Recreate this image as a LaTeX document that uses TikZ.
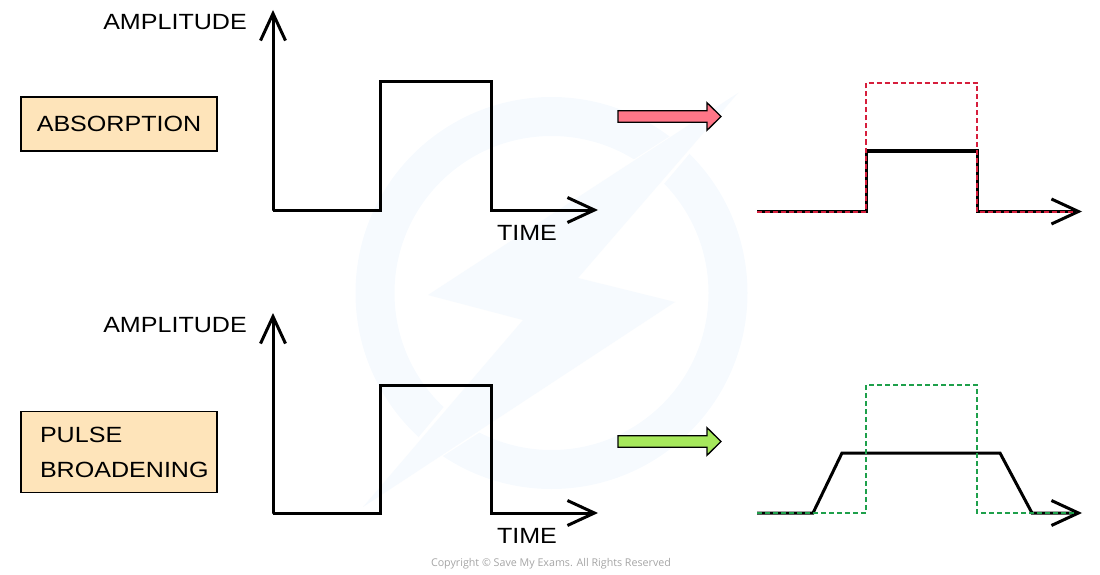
\documentclass[tikz,border=0pt]{standalone}
\usepackage{fontspec}
\setmainfont{Liberation Sans}[FakeStretch=1.14]
\newfontfamily\copyfont{Open Sans}
\usetikzlibrary{arrows.meta}
\definecolor{wm}{RGB}{246,250,254}
\definecolor{boxfill}{RGB}{254,228,186}
\definecolor{redfill}{RGB}{255,118,136}
\definecolor{greenfill}{RGB}{166,232,92}
\definecolor{dred}{RGB}{214,30,60}
\definecolor{dgreen}{RGB}{30,160,75}
\definecolor{cgray}{RGB}{165,165,165}
\tikzset{
  barb/.style={-{Straight Barb[length=27pt,width=25pt,line width=3pt]}},
  axisline/.style={line width=3pt, line cap=round, barb},
  pulseline/.style={line width=3pt, line join=miter},
  dashline/.style={line width=2pt, dash pattern=on 5pt off 3pt},
  lbl/.style={font=\fontsize{22}{26}\selectfont, inner sep=0pt},
  labelbox/.style={draw, line width=1.4pt, fill=boxfill, font=\fontsize{22}{35}\selectfont, minimum width=196pt},
  blockarrow/.style={draw, line width=1.3pt, line join=miter},
}
\begin{document}
\begin{tikzpicture}[x=1pt,y=-1pt]
\useasboundingbox (0,0) rectangle (1100,575);
% watermark
\draw[wm, line width=39pt] (551.5,293) circle[radius=176.5pt];
\fill[white] (745,88) -- (420,297) -- (515,322) -- (356,512) -- (685,300) -- (586,276) -- cycle;
\fill[wm] (738,93) -- (428,295) -- (523,320) -- (363,507) -- (675,302) -- (578,278) -- cycle;
% ---------- top row ----------
\coordinate (o1) at (273,210);
\coordinate (yt1) at (273,10);
\coordinate (r1) at (380,210);
\coordinate (rt1) at (380,82);
\coordinate (ft1) at (491,82);
\coordinate (f1) at (491,210);
\coordinate (xt1) at (598,210);
\draw[axisline] (o1) -- (yt1);
\draw[pulseline, barb] (o1) -- (r1) -- (rt1) -- (ft1) -- (f1) -- (xt1);
\node[lbl, anchor=east] (amp1) at (247,22) {AMPLITUDE};
\node[lbl] (time1) at (527,233) {TIME};
\node[labelbox, minimum height=54pt] (abs) at (119,124) {ABSORPTION};
% red block arrow
\draw[blockarrow, fill=redfill] (618,110.7) -- (707,110.7) -- (707,102.7) -- (721,116.5) -- (707,130.3) -- (707,122.3) -- (618,122.3) -- cycle;
% right top plot
\coordinate (a0) at (757,211.5);
\coordinate (a1) at (866,211.5);
\coordinate (a2) at (866,151);
\coordinate (a3) at (977,151);
\coordinate (a4) at (977,211.5);
\coordinate (a5) at (1082,211.5);
\coordinate (a2d) at (866,83);
\coordinate (a3d) at (977,83);
\coordinate (a5d) at (1076,211.5);
\draw[pulseline, barb] (a0) -- (a1) -- (a2) -- (a3) -- (a4) -- (a5);
\draw[dashline, dred] (a0) -- (a1) -- (a2d) -- (a3d) -- (a4) -- (a5d);
% ---------- bottom row ----------
\coordinate (o2) at (273,513);
\coordinate (yt2) at (273,313);
\coordinate (r2) at (380,513);
\coordinate (rt2) at (380,385);
\coordinate (ft2) at (491,385);
\coordinate (f2) at (491,513);
\coordinate (xt2) at (598,513);
\draw[axisline] (o2) -- (yt2);
\draw[pulseline, barb] (o2) -- (r2) -- (rt2) -- (ft2) -- (f2) -- (xt2);
\node[lbl, anchor=east] (amp2) at (247,325) {AMPLITUDE};
\node[lbl] (time2) at (527,536) {TIME};
\node[labelbox, minimum height=81pt, text width=158pt, inner xsep=19pt, align=left] (pb) at (119,452) {PULSE\\BROADENING};
% green block arrow
\draw[blockarrow, fill=greenfill] (618,435.7) -- (707,435.7) -- (707,427.7) -- (721,441.5) -- (707,455.3) -- (707,447.3) -- (618,447.3) -- cycle;
% right bottom plot
\coordinate (b0) at (757,513);
\coordinate (b1) at (813,513);
\coordinate (b2) at (842,453);
\coordinate (b3) at (1000,453);
\coordinate (b4) at (1032,513);
\coordinate (b5) at (1082,513);
\coordinate (g1) at (866,513);
\coordinate (g2) at (866,385);
\coordinate (g3) at (977,385);
\coordinate (g4) at (977,513);
\coordinate (g5) at (1076,513);
\draw[pulseline, barb] (b0) -- (b1) -- (b2) -- (b3) -- (b4) -- (b5);
\draw[dashline, dgreen] (b0) -- (g1) -- (g2) -- (g3) -- (g4) -- (g5);
% copyright
\node[font=\copyfont\fontsize{10.7}{12}\selectfont, text=cgray, inner sep=0pt] (copy) at (551,564) {Copyright \textcopyright{} Save My Exams. All Rights Reserved};
\end{tikzpicture}
\end{document}
